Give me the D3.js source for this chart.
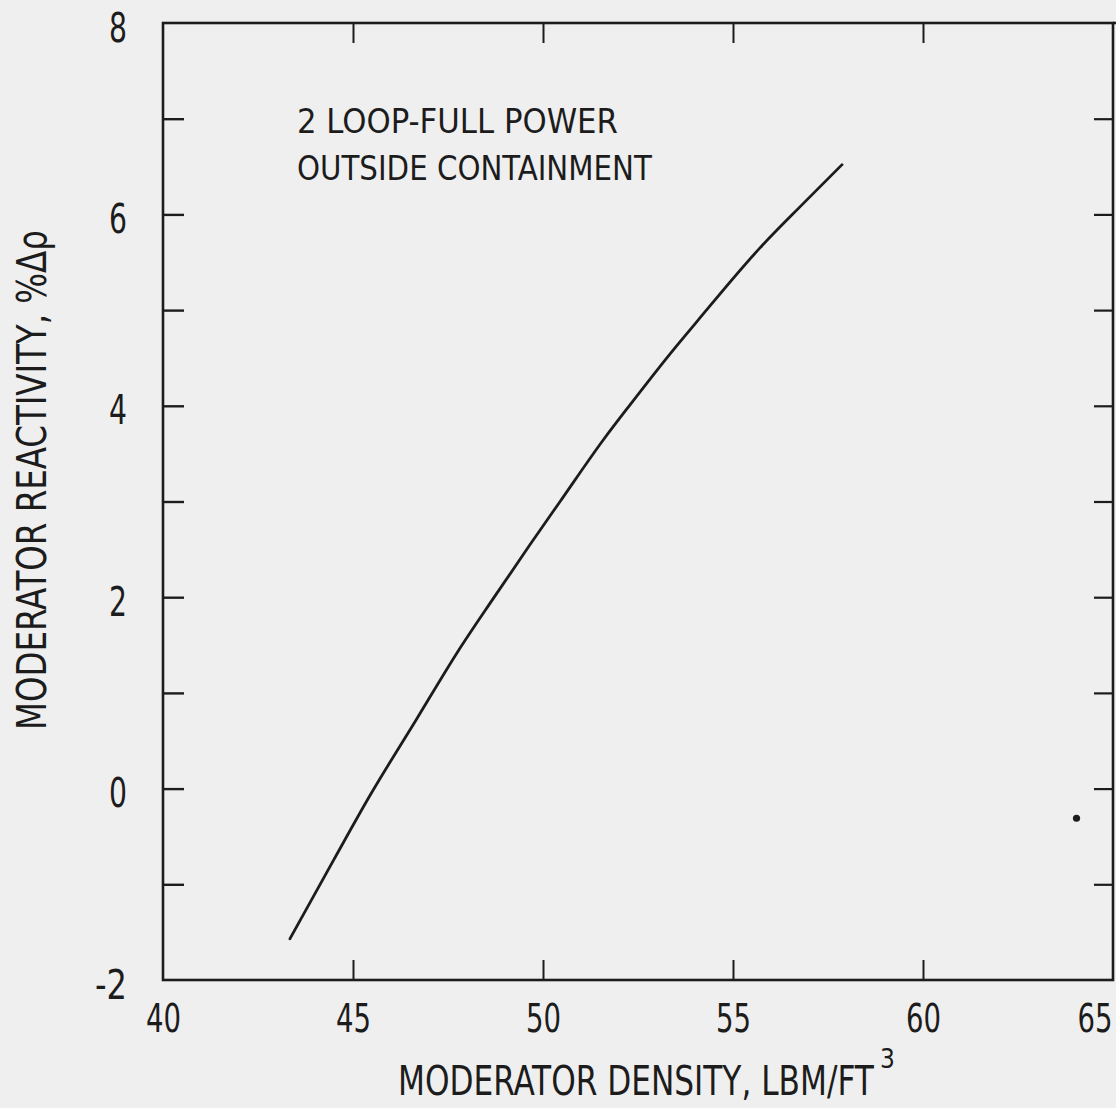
<!DOCTYPE html>
<html>
<head>
<meta charset="utf-8">
<script src="https://cdn.jsdelivr.net/npm/d3@7"></script>
<style>
  html, body { margin: 0; padding: 0; background: #efefef; }
  svg { display: block; }
  text { font-family: "Liberation Sans Narrow", "DejaVu Sans Condensed", "Liberation Sans", sans-serif; fill: #1c1c1c; }
</style>
</head>
<body>
<svg id="chart" width="1116" height="1108"></svg>
<script>
// Moderator density (lbm/ft^3) vs moderator reactivity (%Δρ)
const density    = [43.34, 44.50, 45.45, 46.68, 47.74, 48.68, 49.66, 50.45, 51.58, 52.29, 53.42, 54.05, 55.71, 56.84, 57.87];
const reactivity = [-1.57, -0.74, -0.07, 0.73, 1.42, 1.98, 2.55, 3.00, 3.64, 4.01, 4.58, 4.88, 5.65, 6.11, 6.52];

// Isolated mark near the right edge
const markX = [64.04];
const markY = [-0.31];

const xTicks = [40, 45, 50, 55, 60, 65];
const xTickLabels = ["40", "45", "50", "55", "60", "65"];
const yTicks = [-2, 0, 2, 4, 6, 8];
const yTickLabels = ["-2", "0", "2", "4", "6", "8"];
const yMinorTicks = [-1, 0, 1, 2, 3, 4, 5, 6, 7];
const xInnerTicks = [45, 50, 55, 60];

const annotation = ["2 LOOP-FULL POWER", "OUTSIDE CONTAINMENT"];
const xTitle = "MODERATOR DENSITY, LBM/FT";
const xTitleSup = "3";
const yTitle = "MODERATOR REACTIVITY, %\u0394\u03c1";

const ink = "#1c1c1c";
const svg = d3.select("#chart");

const x = d3.scaleLinear().domain([40, 65]).range([163, 1113]);
const y = d3.scaleLinear().domain([-2, 8]).range([980, 23]);

// Compress a text horizontally about its anchor so it spans `w` pixels
function squeeze(node, w) {
  const k = w / node.getComputedTextLength();
  const ax = +node.getAttribute("x") || 0;
  const prev = node.getAttribute("transform") || "";
  node.setAttribute("transform", `${prev} translate(${ax},0) scale(${k},1) translate(${-ax},0)`);
}

// Frame
svg.append("rect")
  .attr("x", x(40)).attr("y", y(8))
  .attr("width", x(65) - x(40)).attr("height", y(-2) - y(8))
  .attr("fill", "none").attr("stroke", ink).attr("stroke-width", 2.6);
svg.append("line")
  .attr("x1", x(65)).attr("x2", 1116).attr("y1", y(8)).attr("y2", y(8))
  .attr("stroke", ink).attr("stroke-width", 2.6);

// Bottom axis: inward ticks, labels below
const gx = svg.append("g").attr("transform", `translate(0,${y(-2)})`)
  .call(d3.axisBottom(x).tickValues(xTicks)
    .tickFormat((d, i) => xTickLabels[i])
    .tickSizeInner(-20).tickSizeOuter(0).tickPadding(24));
gx.select(".domain").remove();
gx.selectAll(".tick line").attr("stroke", ink).attr("stroke-width", 2)
  .filter(d => d === 40 || d === 65).remove();
gx.selectAll(".tick text").attr("font-size", 39).attr("fill", ink);
// last label sits against the page edge
gx.selectAll(".tick text").filter(d => d === 65)
  .attr("text-anchor", "end").attr("x", 1112 - x(65));
gx.selectAll(".tick text").each(function () { squeeze(this, 35); });

// Top axis: inward ticks only
const gt = svg.append("g").attr("transform", `translate(0,${y(8)})`)
  .call(d3.axisTop(x).tickValues(xInnerTicks).tickFormat("").tickSizeInner(-20).tickSizeOuter(0));
gt.select(".domain").remove();
gt.selectAll(".tick line").attr("stroke", ink).attr("stroke-width", 2);

// Left axis: inward ticks at every unit, labels every 2
const gl = svg.append("g").attr("transform", `translate(${x(40)},0)`)
  .call(d3.axisLeft(y).tickValues(yMinorTicks).tickFormat("").tickSizeInner(-21).tickSizeOuter(0));
gl.select(".domain").remove();
gl.selectAll(".tick line").attr("stroke", ink).attr("stroke-width", 2.4);

const gll = svg.append("g").attr("transform", `translate(${x(40)},0)`)
  .call(d3.axisLeft(y).tickValues(yTicks).tickFormat((d, i) => yTickLabels[i])
    .tickSize(0).tickPadding(36));
gll.select(".domain").remove();
gll.selectAll(".tick text").attr("font-size", 41).attr("fill", ink).attr("dy", "0.44em")
  .each(function (d, i) { squeeze(this, yTickLabels[i] === "-2" ? 32 : 18); });

// Right axis: inward ticks
const gr = svg.append("g").attr("transform", `translate(${x(65)},0)`)
  .call(d3.axisRight(y).tickValues(yMinorTicks).tickFormat("").tickSizeInner(-19).tickSizeOuter(0));
gr.select(".domain").remove();
gr.selectAll(".tick line").attr("stroke", ink).attr("stroke-width", 2.2);

// Curve
const pts = density.map((d, i) => [d, reactivity[i]]);
const line = d3.line().x(d => x(d[0])).y(d => y(d[1])).curve(d3.curveMonotoneX);
svg.append("path").datum(pts).attr("d", line)
  .attr("fill", "none").attr("stroke", ink).attr("stroke-width", 2.8)
  .attr("stroke-linecap", "round");

// Stray mark
svg.selectAll("circle.mark").data(markX.map((d, i) => [d, markY[i]])).enter()
  .append("circle").attr("class", "mark")
  .attr("cx", d => x(d[0])).attr("cy", d => y(d[1])).attr("r", 3.6).attr("fill", ink);

// Annotation
const annW = [321, 355];
svg.selectAll("text.ann").data(annotation).enter().append("text")
  .attr("class", "ann")
  .attr("x", 297).attr("y", (d, i) => 133 + i * 47)
  .attr("font-size", 33)
  .text(d => d)
  .each(function (d, i) { squeeze(this, annW[i]); });

// X title with superscript unit exponent
svg.append("text").attr("x", 398).attr("y", 1095).attr("font-size", 40)
  .text(xTitle)
  .each(function () { squeeze(this, 476); });
svg.append("text").attr("x", 880).attr("y", 1068).attr("font-size", 26)
  .text(xTitleSup);

// Y title (rotated)
svg.append("text")
  .attr("transform", "translate(46,730) rotate(-90)")
  .attr("font-size", 40)
  .text(yTitle)
  .each(function () { squeeze(this, 500); });
</script>
</body>
</html>
